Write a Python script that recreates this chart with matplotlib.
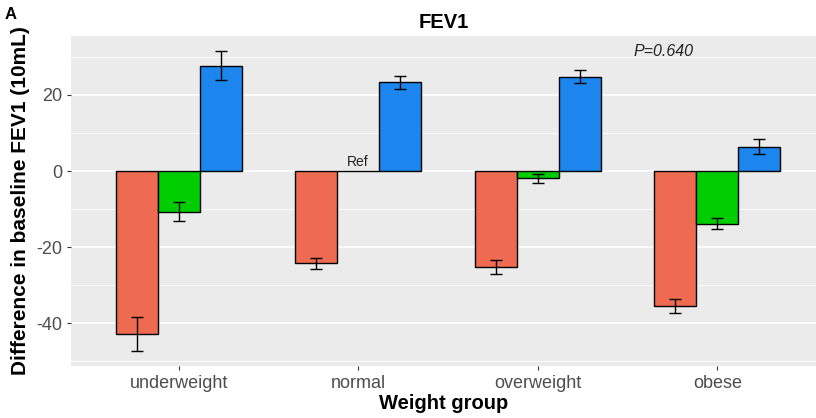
import numpy as np
from matplotlib import pyplot as plt

plt.rcParams['font.family'] = ['Liberation Sans', 'DejaVu Sans']

groups = ['underweight', 'normal', 'overweight', 'obese']
colors = ['#EE6A50', '#00CD00', '#1C86EE']

# values per series (one per weight group)
vals_1 = [-42.9, -24.3, -25.2, -35.5]
vals_2 = [-10.7, 0.0, -1.9, -13.8]
vals_3 = [27.7, 23.3, 24.8, 6.4]
err_1 = [4.5, 1.55, 1.75, 1.9]
err_2 = [2.5, 0.0, 1.2, 1.45]
err_3 = [3.9, 1.8, 1.75, 2.05]

values = [vals_1, vals_2, vals_3]
errors = [err_1, err_2, err_3]

fig = plt.figure(figsize=(8.16, 4.18), dpi=100)
ax = fig.add_axes([0.087, 0.124, 0.913, 0.79])
ax.set_facecolor('#EBEBEB')

x = np.arange(1, len(groups) + 1)
w = 0.7 / 3
for k in range(3):
    pos = x + (k - 1) * w
    ax.bar(pos, values[k], width=w, color=colors[k], edgecolor='black',
           linewidth=1.0, zorder=3)
    for p, v, e in zip(pos, values[k], errors[k]):
        if e > 0:
            ax.errorbar(p, v, yerr=e, fmt='none', ecolor='black',
                        elinewidth=1.0, capsize=4.3, capthick=1.0, zorder=4)

ax.text(2, 0.4, 'Ref', ha='center', va='bottom', fontsize=10,
        color='#222222', zorder=5)
ax.text(3.7, 31.5, 'P=0.640', ha='center', va='center', fontsize=11.5,
        style='italic', color='#222222', zorder=5)

ax.set_xlim(0.4, 4.55)
ax.set_ylim(-51.3, 35.5)
ax.set_xticks(x)
ax.set_xticklabels(groups, fontsize=13, color='#4D4D4D')
ax.set_yticks([-40, -20, 0, 20])
ax.set_yticklabels(['-40', '-20', '0', '20'], fontsize=13, color='#4D4D4D')
ax.set_yticks([-50, -30, -10, 10, 30], minor=True)
ax.grid(True, which='major', color='white', linewidth=1.2, zorder=0)
ax.grid(True, which='minor', axis='y', color='white', linewidth=0.6, zorder=0)
ax.grid(False, axis='x', which='both')
ax.set_axisbelow(True)
ax.tick_params(axis='both', which='major', length=3, color='#333333', width=0.8)
ax.tick_params(axis='y', which='minor', length=0)
for s in ax.spines.values():
    s.set_visible(False)

ax.set_xlabel('Weight group', fontsize=14.5, fontweight='bold', labelpad=1)
ax.set_ylabel('Difference in baseline FEV1 (10mL)', fontsize=15, fontweight='bold', labelpad=4)
ax.set_title('FEV1', fontsize=14.5, fontweight='bold', pad=6)
fig.text(0.006, 0.965, 'A', fontsize=12, fontweight='bold', va='center')

plt.savefig('out.png', dpi=100)
